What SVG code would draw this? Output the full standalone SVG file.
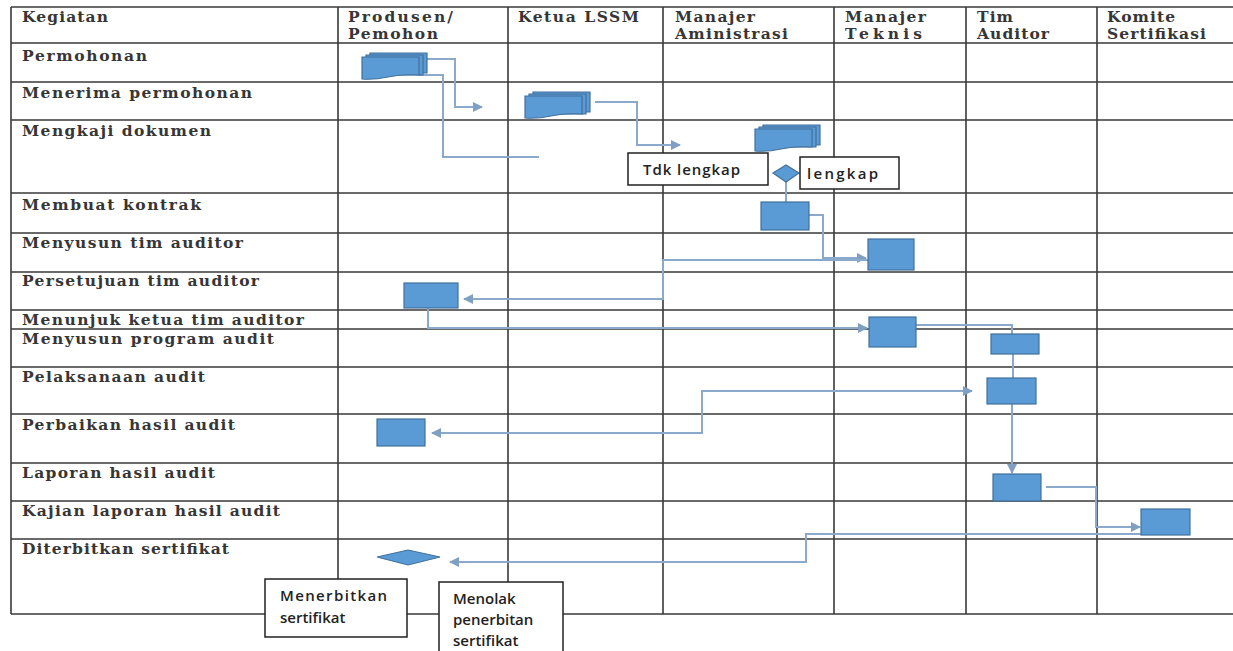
<svg xmlns="http://www.w3.org/2000/svg" xmlns:xlink="http://www.w3.org/1999/xlink" width="1233" height="651" viewBox="0 0 1233 651">
<style>
.grid{stroke:#3a3a3a;stroke-width:1.6;fill:none}
.lbl{font-family:"DejaVu Serif","Liberation Serif",serif;font-size:15.5px;font-weight:bold;fill:#363636}
.node{fill:#5b9bd5;stroke:#41719c;stroke-width:1.2}
.conn{fill:none;stroke:#8aa9cb;stroke-width:2}
.box{fill:#fff;stroke:#222;stroke-width:1.5}
.btxt{font-family:"Open Sans","Liberation Sans",sans-serif;font-size:15px;font-weight:600;fill:#222}
</style>
<defs>
<marker id="arr" viewBox="0 0 10 10" refX="9" refY="5" markerWidth="5" markerHeight="5" orient="auto-start-reverse" markerUnits="strokeWidth">
<path d="M0,0 L10,5 L0,10 Z" fill="#7f9fc3"/>
</marker>
<g id="multidoc">
<path class="node" d="M8,0 H65 V20 H8 Z"/>
<path class="node" d="M4,2 H61 V22 H4 Z"/>
<path class="node" d="M0,4 H57 V22 Q40,21 26,24 Q12,27 0,26 Z"/>
</g>
</defs>
<rect width="1233" height="651" fill="#fff"/>
<g id="table">
<path class="grid" d="M11,7 H1233 M11,43 H1233 M11,82 H1233 M11,120 H1233 M11,193 H1233 M11,233 H1233 M11,272 H1233 M11,310 H1233 M11,329 H1233 M11,367 H1233 M11,414 H1233 M11,463 H1233 M11,501 H1233 M11,539 H1233 M11,614 H1233"/>
<path class="grid" d="M11,7 V614 M338,7 V614 M508,7 V614 M663,7 V614 M834,7 V614 M966,7 V614 M1097,7 V614"/>
</g>
<g id="headers" class="lbl">
<text x="22" y="22" textLength="86">Kegiatan</text>
<text x="348" y="22" textLength="105">Produsen/</text>
<text x="348" y="39" textLength="90">Pemohon</text>
<text x="518" y="22" textLength="121">Ketua LSSM</text>
<text x="675" y="22" textLength="80">Manajer</text>
<text x="675" y="39" textLength="113">Aministrasi</text>
<text x="845" y="22" textLength="81">Manajer</text>
<text x="845" y="39" textLength="77">Teknis</text>
<text x="977" y="22" textLength="36">Tim</text>
<text x="977" y="39" textLength="72">Auditor</text>
<text x="1107" y="22" textLength="68">Komite</text>
<text x="1107" y="39" textLength="99">Sertifikasi</text>
</g>
<g id="rows" class="lbl">
<text x="22" y="61" textLength="125">Permohonan</text>
<text x="22" y="98" textLength="230">Menerima permohonan</text>
<text x="22" y="136" textLength="189">Mengkaji dokumen</text>
<text x="22" y="210" textLength="179">Membuat kontrak</text>
<text x="22" y="248" textLength="221">Menyusun tim auditor</text>
<text x="22" y="286" textLength="237">Persetujuan tim auditor</text>
<text x="22" y="325" textLength="282">Menunjuk ketua tim auditor</text>
<text x="22" y="344" textLength="252">Menyusun program audit</text>
<text x="22" y="382" textLength="183">Pelaksanaan audit</text>
<text x="22" y="430" textLength="213">Perbaikan hasil audit</text>
<text x="22" y="478" textLength="193">Laporan hasil audit</text>
<text x="22" y="516" textLength="258">Kajian laporan hasil audit</text>
<text x="22" y="554" textLength="207">Diterbitkan sertifikat</text>
</g>
<g id="connectors">
<path class="conn" d="M427,59 H455 V107 H482" marker-end="url(#arr)"/>
<path class="conn" d="M418,75 H443 V157 H539"/>
<path class="conn" d="M595,102 H637 V145 H680" marker-end="url(#arr)"/>
<path class="conn" d="M786,182 V202"/>
<path class="conn" d="M809,215 H823 V258 H866" marker-end="url(#arr)"/>
<path class="conn" d="M868,260 H663 V299 H464" marker-end="url(#arr)"/>
<path class="conn" d="M428,308 V328 H867" marker-end="url(#arr)"/>
<path class="conn" d="M916,325 H1012 V334"/>
<path class="conn" d="M1013,354 V378"/>
<path class="conn" d="M972,391 H702 V433 H432" marker-start="url(#arr)" marker-end="url(#arr)"/>
<path class="conn" d="M1012,404 V473" marker-end="url(#arr)"/>
<path class="conn" d="M1046,487 H1096 V527 H1140" marker-end="url(#arr)"/>
<path class="conn" d="M1141,534 H806 V562 H450" marker-end="url(#arr)"/>
</g>
<g id="n-permohonan"><use xlink:href="#multidoc" x="362" y="53"/></g>
<g id="n-menerima"><use xlink:href="#multidoc" x="525" y="92"/></g>
<g id="n-mengkaji"><use xlink:href="#multidoc" x="755" y="125"/></g>
<g id="n-cek"><polygon class="node" points="773,173 786,165 799,173 786,182"/></g>
<g id="n-tdk">
<rect class="box" x="628" y="153" width="140" height="32"/>
<text class="btxt" x="643" y="175" textLength="97">Tdk lengkap</text>
</g>
<g id="n-lengkap">
<rect class="box" x="800" y="157" width="99" height="32"/>
<text class="btxt" x="807" y="179" textLength="71">lengkap</text>
</g>
<g id="n-kontrak"><rect class="node" x="761" y="202" width="48" height="28"/></g>
<g id="n-timauditor"><rect class="node" x="868" y="239" width="46" height="31"/></g>
<g id="n-persetujuan"><rect class="node" x="404" y="283" width="54" height="25"/></g>
<g id="n-menunjuk"><rect class="node" x="869" y="317" width="47" height="30"/></g>
<g id="n-program"><rect class="node" x="991" y="334" width="48" height="20"/></g>
<g id="n-pelaksanaan"><rect class="node" x="987" y="378" width="49" height="26"/></g>
<g id="n-perbaikan"><rect class="node" x="377" y="419" width="48" height="27"/></g>
<g id="n-laporan"><rect class="node" x="993" y="474" width="48" height="27"/></g>
<g id="n-kajian"><rect class="node" x="1141" y="509" width="49" height="26"/></g>
<g id="n-terbit"><polygon class="node" points="377,557 408,550 440,557 408,565"/></g>
<g id="n-menerbitkan">
<rect class="box" x="265" y="579" width="142" height="58"/>
<text class="btxt" x="280" y="601" textLength="107">Menerbitkan</text>
<text class="btxt" x="280" y="623">sertifikat</text>
</g>
<g id="n-menolak">
<rect class="box" x="439" y="582" width="124" height="80"/>
<text class="btxt" x="453" y="604">Menolak</text>
<text class="btxt" x="453" y="625">penerbitan</text>
<text class="btxt" x="453" y="646">sertifikat</text>
</g>
</svg>
